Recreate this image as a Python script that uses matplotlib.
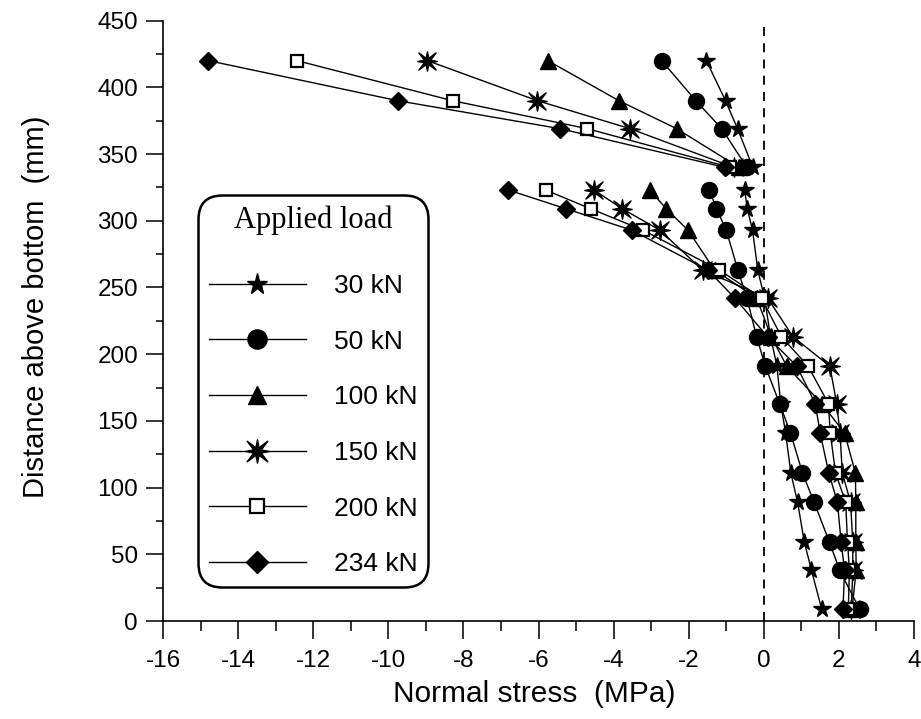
import numpy as np
import matplotlib
matplotlib.use("Agg")
import matplotlib.pyplot as plt
from matplotlib.path import Path
from matplotlib.font_manager import FontProperties

plt.rcParams["font.family"] = ["Liberation Sans", "DejaVu Sans"]
plt.rcParams["axes.unicode_minus"] = False

# Gauge heights above the bottom (mm): upper and lower measuring lines
heights_top = [420, 390, 369, 340]
heights_bot = [323, 309, 293, 263, 242, 213, 191, 163, 141, 111, 89, 59, 38, 9]

loads = ["30 kN", "50 kN", "100 kN", "150 kN", "200 kN", "234 kN"]

# Normal stress (MPa) for each load, upper line
stress_top = {
    "30 kN":  [-1.53, -1.02, -0.70, -0.29],
    "50 kN":  [-2.72, -1.81, -1.12, -0.45],
    "100 kN": [-5.75, -3.86, -2.32, -0.66],
    "150 kN": [-8.96, -6.03, -3.56, -0.80],
    "200 kN": [-12.43, -8.29, -4.70, -0.90],
    "234 kN": [-14.79, -9.75, -5.42, -1.03],
}

# Normal stress (MPa) for each load, lower line
stress_bot = {
    "30 kN":  [-0.51, -0.44, -0.30, -0.16, 0.02, 0.18, 0.35, 0.45, 0.58, 0.72, 0.90, 1.08, 1.27, 1.54],
    "50 kN":  [-1.45, -1.26, -1.00, -0.69, -0.45, -0.19, 0.04, 0.42, 0.71, 1.03, 1.34, 1.75, 2.02, 2.55],
    "100 kN": [-3.03, -2.60, -2.02, -1.31, -0.19, 0.20, 0.61, 1.54, 2.15, 2.44, 2.45, 2.45, 2.46, 2.35],
    "150 kN": [-4.52, -3.77, -2.77, -1.63, 0.10, 0.78, 1.76, 1.94, 2.03, 2.09, 2.31, 2.37, 2.37, 2.33],
    "200 kN": [-5.81, -4.61, -3.22, -1.18, -0.06, 0.47, 1.18, 1.72, 1.77, 1.91, 2.18, 2.23, 2.28, 2.25],
    "234 kN": [-6.80, -5.27, -3.52, -1.49, -0.77, 0.10, 0.88, 1.37, 1.50, 1.73, 1.96, 2.06, 2.15, 2.11],
}

xticks = [-16, -14, -12, -10, -8, -6, -4, -2, 0, 2, 4]
yticks = [0, 50, 100, 150, 200, 250, 300, 350, 400, 450]


def spiky_star():
    ''' Eight pointed star, long diagonal spikes and shorter upright ones. '''
    verts = []
    for k in range(16):
        ang = np.pi / 2 + k * np.pi / 8
        if k % 2 == 1:
            r = 0.28
        elif k % 4 == 2:
            r = 1.0
        else:
            r = 0.8
        verts.append((r * np.cos(ang), r * np.sin(ang)))
    verts.append(verts[0])
    codes = [Path.MOVETO] + [Path.LINETO] * 15 + [Path.CLOSEPOLY]
    return Path(verts, codes)


styles = {
    "30 kN":  dict(marker="*", ms=13, mfc="black"),
    "50 kN":  dict(marker="o", ms=11.5, mfc="black"),
    "100 kN": dict(marker="^", ms=11, mfc="black"),
    "150 kN": dict(marker=spiky_star(), ms=14, mfc="black"),
    "200 kN": dict(marker="s", ms=8, mfc="white", mew=1.6),
    "234 kN": dict(marker="D", ms=9.5, mfc="black"),
}

fig = plt.figure(figsize=(9.21, 7.19), dpi=100)
ax = fig.add_axes([0.177, 0.1363, 0.8154, 0.835])

handles = []
for load in loads:
    st = styles[load]
    ax.plot(stress_top[load], heights_top, color="black", lw=1.0,
            mec="black", zorder=3, **st)
    h, = ax.plot(stress_bot[load], heights_bot, color="black", lw=1.0,
                 mec="black", zorder=3, label=load, **st)
    handles.append(h)

# zero stress reference
ax.axvline(0, color="black", lw=1.3, ls=(0, (5, 4)), zorder=1)

# axes
ax.set_xlim(-16, 4)
ax.set_ylim(0, 450)
ax.set_xticks(xticks)
ax.set_xticks(np.arange(-15, 4, 2), minor=True)
ax.set_yticks(yticks)
ax.set_yticks(np.arange(25, 450, 50), minor=True)
for side in ["top", "right"]:
    ax.spines[side].set_visible(False)
for side in ["left", "bottom"]:
    ax.spines[side].set_linewidth(1.2)

ax.tick_params(axis="x", which="major", direction="out", length=13, width=1.1,
               labelsize=17.5, pad=8)
ax.tick_params(axis="x", which="minor", direction="out", length=7, width=1.1)
ax.tick_params(axis="y", which="major", direction="out", length=12, width=1.1,
               labelsize=17.5, pad=6)
ax.tick_params(axis="y", which="minor", direction="out", length=5, width=1.1)

ax.set_xlabel("Normal stress  (MPa)", fontsize=21.5)
ax.set_ylabel("Distance above bottom  (mm)", fontsize=21)
ax.xaxis.set_label_coords(0.494, -0.098)
ax.yaxis.set_label_coords(-0.151, 0.523)

leg = ax.legend(handles=handles,
                title="Applied load",
                title_fontproperties=FontProperties(family="Liberation Serif", size=22),
                loc="upper left",
                bbox_to_anchor=(198 / 921, 1 - 195 / 719),
                bbox_transform=fig.transFigure,
                borderaxespad=0,
                fontsize=19,
                numpoints=1,
                markerscale=1.2,
                handlelength=3.7,
                handletextpad=1.05,
                labelspacing=1.2,
                borderpad=0.4,
                fancybox=True,
                framealpha=1,
                edgecolor="black")
frame = leg.get_frame()
frame.set_linewidth(1.8)
frame.set_boxstyle("round", pad=0, rounding_size=0.9)
leg._legend_box.sep = 28

fig.savefig("out.png", dpi=100)
